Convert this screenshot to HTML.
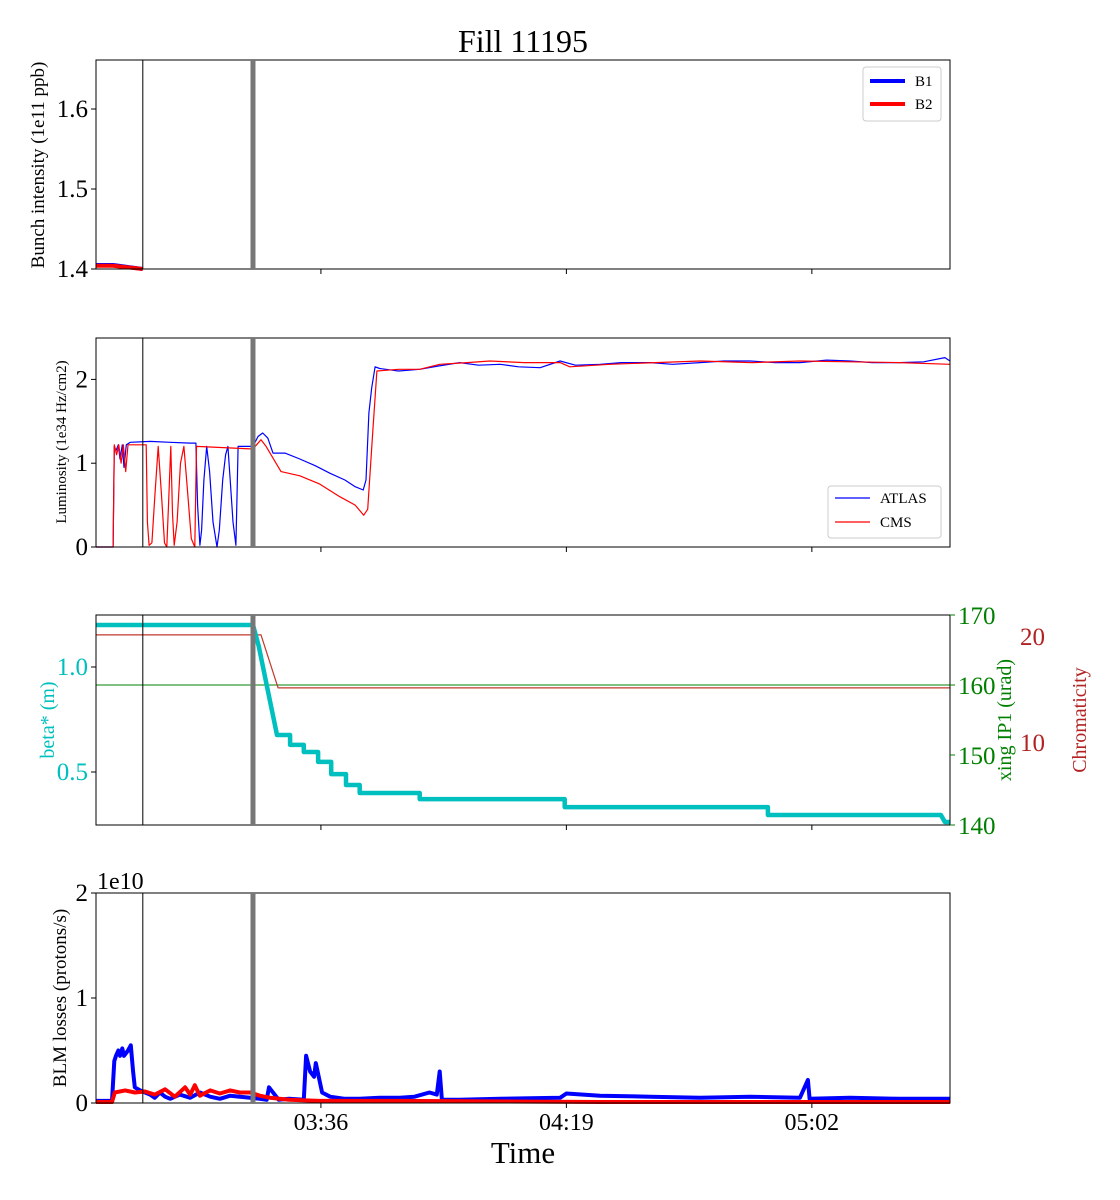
<!DOCTYPE html>
<html><head><meta charset="utf-8"><style>
body{margin:0;background:#fff}
svg{display:block;font-family:"Liberation Serif",serif}
</style></head><body>
<svg id="fig" width="1120" height="1200" viewBox="0 0 1120 1200" xmlns="http://www.w3.org/2000/svg">
<rect width="1120" height="1200" fill="#fff"/>
<text x="523" y="52" font-size="32" text-anchor="middle">Fill 11195</text>
<g id="g"></g>
</svg>
<script>
// time in minutes since axis start (~02:56.6)
const xTickLabels=["03:36","04:19","05:02"];
const xTickTimes=[39.4,82.4,125.4];
const markerTimes=[8.2,27.5];
const intensityT=[0,3.0,8.2];
const intensityB1=[1.405,1.405,1.4];
const intensityB2=[1.404,1.404,1.4];
const atlasT=[0,3.0,3.2,3.5,3.9,4.2,4.6,4.9,5.3,6.0,9.5,13.0,16.5,17.5,17.8,18.2,18.5,18.9,19.4,19.9,20.5,21.2,21.6,22.2,22.7,23.1,23.5,24.0,24.5,24.7,24.9,27.5,28.4,29.2,30.1,31.0,33.1,35.7,38.4,41.0,43.6,45.4,46.8,47.3,47.8,48.3,48.9,49.7,53.0,56.7,60.0,63.7,67.0,70.8,74.0,77.8,81.3,84.0,88.3,92.0,97.1,101.0,105.8,110.0,114.6,119.0,123.3,128.0,132.1,136.0,140.8,145.0,148.7,149.6];
const atlasV=[0,0,1.2,1.15,1.22,1.05,1.22,0.95,1.22,1.25,1.26,1.25,1.24,1.24,0.5,0.02,0.2,0.8,1.2,0.9,0.3,0.0,0.2,0.8,1.1,1.2,0.8,0.3,0.02,0.6,1.2,1.2,1.32,1.36,1.3,1.12,1.12,1.05,0.97,0.88,0.8,0.72,0.68,0.8,1.6,1.9,2.15,2.13,2.1,2.12,2.16,2.2,2.17,2.18,2.15,2.14,2.22,2.17,2.18,2.2,2.2,2.18,2.2,2.22,2.22,2.2,2.2,2.23,2.22,2.2,2.2,2.21,2.26,2.22];
const cmsT=[0,3.0,3.2,3.6,4.0,4.4,4.8,5.2,5.6,8.8,9.0,9.3,9.8,10.3,10.9,11.5,12.0,12.4,12.7,13.1,13.4,13.7,14.2,14.8,15.4,16.0,16.7,17.3,17.6,27.5,28.9,29.8,32.4,35.7,39.2,42.7,45.4,46.9,47.6,48.5,49.2,53.0,56.7,60.2,65.0,69.0,75.0,81.3,83.0,90.0,98.0,105.8,115.0,123.3,132.0,140.8,149.6];
const cmsV=[0,0,1.22,1.1,1.22,1.0,1.22,0.9,1.22,1.22,0.3,0.02,0.05,0.6,1.2,0.6,0.05,0.0,0.5,1.2,0.4,0.02,0.3,1.0,1.2,0.7,0.1,0.0,1.2,1.17,1.28,1.2,0.9,0.85,0.75,0.6,0.5,0.38,0.45,1.4,2.1,2.12,2.12,2.18,2.2,2.22,2.2,2.2,2.15,2.18,2.2,2.22,2.2,2.22,2.21,2.2,2.18];
const betaT=[0,27.5,28.5,30.0,31.7,34.0,34.0,36.4,36.4,38.9,38.9,41.2,41.2,43.8,43.8,46.2,46.2,56.7,56.7,82.1,82.1,117.7,117.7,148.0,148.7,149.6];
const betaV=[1.2,1.2,1.1,0.9,0.676,0.676,0.629,0.629,0.595,0.595,0.548,0.548,0.49,0.49,0.438,0.438,0.4,0.4,0.371,0.371,0.333,0.333,0.295,0.295,0.262,0.262];
const xingT=[0,149.6];
const xingV=[160,160];
const chromaT=[0,28.9,31.9,149.6];
const chromaV=[20.1,20.1,15.1,15.1];
const blmT=[0,2.8,3.2,3.5,3.9,4.2,4.6,4.9,5.6,6.1,6.5,6.8,7.7,8.6,9.5,10.3,11.2,12.1,13.0,14.7,16.5,18.2,20.0,21.7,23.5,25.2,27.0,28.7,29.9,30.3,32.0,33.8,36.4,36.8,37.5,38.2,38.5,39.6,41.0,43.6,46.2,49.7,53.2,55.8,58.4,59.7,60.2,60.6,63.7,70.8,81.3,82.4,88.3,97.1,105.8,114.6,123.3,124.7,125.0,132.1,140.8,149.6];
const blmB1=[0.02,0.02,0.4,0.45,0.5,0.45,0.52,0.45,0.5,0.55,0.3,0.15,0.12,0.1,0.08,0.05,0.1,0.06,0.04,0.08,0.05,0.1,0.06,0.04,0.07,0.06,0.05,0.04,0.03,0.15,0.03,0.04,0.03,0.45,0.3,0.25,0.38,0.1,0.06,0.04,0.04,0.05,0.05,0.06,0.1,0.08,0.3,0.03,0.03,0.04,0.05,0.09,0.07,0.06,0.05,0.06,0.05,0.22,0.04,0.05,0.04,0.04];
const blmB2T=[0,2.8,3.3,5.1,6.8,8.6,10.3,12.1,13.8,15.6,16.5,17.3,18.2,20.0,21.7,23.5,25.2,27.0,28.7,30.5,33.8,39.1,53.2,88.3,149.6];
const blmB2=[0.01,0.01,0.1,0.12,0.1,0.11,0.08,0.13,0.06,0.15,0.08,0.17,0.07,0.12,0.09,0.12,0.1,0.1,0.07,0.05,0.03,0.02,0.02,0.01,0.01];

const NS="http://www.w3.org/2000/svg";
const G=document.getElementById('g');
const L=96,R=950,TMAX=149.6;
function X(t){return L+t*(R-L)/TMAX;}
function mk(tag,attrs,parent){const e=document.createElementNS(NS,tag);for(const k in attrs)e.setAttribute(k,attrs[k]);(parent||G).appendChild(e);return e;}
function txt(s,attrs){const e=mk('text',attrs);e.textContent=s;return e;}
function line(ts,vs,Y,color,w,name){
  const d=ts.map((t,i)=>(i?'L':'M')+X(t).toFixed(1)+' '+Y(vs[i]).toFixed(1)).join(' ');
  const p=mk('path',{d:d,fill:'none',stroke:color,'stroke-width':w,'stroke-linejoin':'round'});
  
  
}
function frame(top,bot,i){
  const r=mk('rect',{x:L,y:top,width:R-L,height:bot-top,fill:'none',stroke:'#000','stroke-width':1});
  
  
  xTickTimes.forEach((t,j)=>{
    mk('line',{x1:X(t),x2:X(t),y1:bot,y2:bot+5,stroke:'#000'});
    if(i===3){const e=txt(xTickLabels[j],{x:X(t),y:bot+27,'font-size':24,'text-anchor':'middle'});
      
      }
  });
  mk('line',{x1:X(markerTimes[0]),x2:X(markerTimes[0]),y1:top,y2:bot,stroke:'#000','stroke-width':1});
  mk('line',{x1:X(markerTimes[1]),x2:X(markerTimes[1]),y1:top,y2:bot,stroke:'#777','stroke-width':5});
}
function yticks(vals,labels,Y,x,color,side){
  vals.forEach((v,k)=>{const y=Y(v);
    if(side==='l'){mk('line',{x1:x-5,x2:x,y1:y,y2:y,stroke:'#000'});
      const e=txt(labels[k],{x:x-8,y:y+8,'font-size':25,'text-anchor':'end',fill:color});
      
      }
    else{mk('line',{x1:x,x2:x+5,y1:y,y2:y,stroke:color});
      const e=txt(labels[k],{x:x+8,y:y+9,'font-size':25,fill:color});
      
      }
  });
}
function ylabel(s,x,y,size,color,name){
  const e=txt(s,{x:x,y:y,'font-size':size,'text-anchor':'middle',fill:color,transform:'rotate(-90 '+x+' '+y+')'});
  
  
}
// Panel 1
const Y1=v=>269-(v-1.4)*800;
line(intensityT,intensityB1,Y1,'#00f',4,'series-b1');
line(intensityT,intensityB2,Y1,'#f00',4,'series-b2');
frame(60,269,0);
yticks([1.4,1.5,1.6],["1.4","1.5","1.6"],Y1,L,'#000','l');
ylabel('Bunch intensity (1e11 ppb)',44,165,19,'#000','y-axis-title-intensity');
// Panel 2
const Y2=v=>547-v*83.8;
line(atlasT,atlasV,Y2,'#00f',1.2,'series-atlas');
line(cmsT,cmsV,Y2,'#f00',1.2,'series-cms');
frame(338,547,1);
yticks([0,1,2],["0","1","2"],Y2,L,'#000','l');
ylabel('Luminosity (1e34 Hz/cm2)',66,442,15,'#000','y-axis-title-luminosity');
// Panel 3
const Y3=v=>667-(v-1)*210;
const Yx=v=>615+(170-v)*7;
const Yc=v=>636+(20-v)*10.6;
line(xingT,xingV,Yx,'#008000',1,'series-xing');
line(chromaT,chromaV,Yc,'#c0392b',1.2,'series-chromaticity');
line(betaT,betaV,Y3,'#00bfbf',4.5,'series-beta');
frame(615,825,2);
yticks([0.5,1.0],["0.5","1.0"],Y3,L,'#00bfbf','l');
yticks([140,150,160,170],["140","150","160","170"],Yx,R,'#008000','r');
[10,20].forEach(v=>{const e=txt(String(v),{x:1020,y:Yc(v)+9,'font-size':25,fill:'#b22222'});
  
  });
ylabel('beta* (m)',54,720,20,'#00bfbf','y-axis-title-beta');
ylabel('xing IP1 (urad)',1011,720,20,'#008000','y-axis-title-xing');
ylabel('Chromaticity',1086,720,20,'#b22222','y-axis-title-chromaticity');
// Panel 4
const Y4=v=>1103-v*105;
line(blmT,blmB1,Y4,'#00f',4,'series-blm-b1');
line(blmB2T,blmB2,Y4,'#f00',4,'series-blm-b2');
frame(893,1103,3);
yticks([0,1,2],["0","1","2"],Y4,L,'#000','l');
ylabel('BLM losses (protons/s)',66,998,19,'#000','y-axis-title-blm');
</script>
<script>
const S=document.getElementById('fig');
function T(s,a,name){const e=document.createElementNS("http://www.w3.org/2000/svg",'text');for(const k in a)e.setAttribute(k,a[k]);e.textContent=s;S.appendChild(e);


return e;}
function Rr(a,name){const e=document.createElementNS("http://www.w3.org/2000/svg",'rect');for(const k in a)e.setAttribute(k,a[k]);S.appendChild(e);

}
function Ln(a){const e=document.createElementNS("http://www.w3.org/2000/svg",'line');for(const k in a)e.setAttribute(k,a[k]);S.appendChild(e);return e;}
T('1e10',{x:97,y:889,'font-size':24},'blm-scale-label');
T('Time',{x:523,y:1163,'font-size':31,'text-anchor':'middle'},'x-axis-title');
Rr({x:863,y:67,width:78,height:54,rx:3,fill:'#fff',stroke:'#ccc'},'legend-intensity');
Ln({x1:870,x2:905,y1:81,y2:81,stroke:'#00f','stroke-width':4});
Ln({x1:870,x2:905,y1:104,y2:104,stroke:'#f00','stroke-width':4});
T('B1',{x:915,y:86,'font-size':15},'legend-entry-b1');
T('B2',{x:915,y:109,'font-size':15},'legend-entry-b2');
Rr({x:828,y:486,width:113,height:52,rx:3,fill:'#fff',stroke:'#ccc'},'legend-luminosity');
Ln({x1:835,x2:870,y1:498,y2:498,stroke:'#00f','stroke-width':1.2});
Ln({x1:835,x2:870,y1:522,y2:522,stroke:'#f00','stroke-width':1.2});
T('ATLAS',{x:880,y:503,'font-size':15},'legend-entry-atlas');
T('CMS',{x:880,y:527,'font-size':15},'legend-entry-cms');
</script>
</body></html>
